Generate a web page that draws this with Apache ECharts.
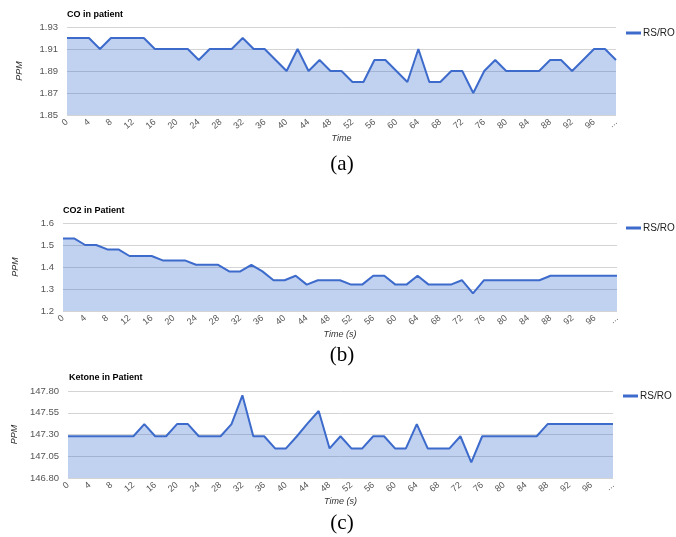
<!DOCTYPE html>
<html>
<head>
<meta charset="utf-8">
<script src="https://cdn.jsdelivr.net/npm/echarts@6/dist/echarts.min.js"></script>
<style>
html,body{margin:0;padding:0;background:#fff;}
#c{width:676px;height:537px;}
</style>
</head>
<body>
<div id="c"></div>
<script>
// ---- data ----
var times = [0,2,4,6,8,10,12,14,16,18,20,22,24,26,28,30,32,34,36,38,40,42,44,46,48,50,52,54,56,58,60,62,64,66,68,70,72,74,76,78,80,82,84,86,88,90,92,94,96,98,100];
var coValues = [1.92,1.92,1.92,1.91,1.92,1.92,1.92,1.92,1.91,1.91,1.91,1.91,1.90,1.91,1.91,1.91,1.92,1.91,1.91,1.90,1.89,1.91,1.89,1.90,1.89,1.89,1.88,1.88,1.90,1.90,1.89,1.88,1.91,1.88,1.88,1.89,1.89,1.87,1.89,1.90,1.89,1.89,1.89,1.89,1.90,1.90,1.89,1.90,1.91,1.91,1.90];
var co2Values = [1.53,1.53,1.50,1.50,1.48,1.48,1.45,1.45,1.45,1.43,1.43,1.43,1.41,1.41,1.41,1.38,1.38,1.41,1.38,1.34,1.34,1.36,1.32,1.34,1.34,1.34,1.32,1.32,1.36,1.36,1.32,1.32,1.36,1.32,1.32,1.32,1.34,1.28,1.34,1.34,1.34,1.34,1.34,1.34,1.36,1.36,1.36,1.36,1.36,1.36,1.36];
var ketoneValues = [147.28,147.28,147.28,147.28,147.28,147.28,147.28,147.42,147.28,147.28,147.42,147.42,147.28,147.28,147.28,147.42,147.75,147.28,147.28,147.14,147.14,147.28,147.43,147.57,147.14,147.28,147.14,147.14,147.28,147.28,147.14,147.14,147.42,147.14,147.14,147.14,147.28,146.98,147.28,147.28,147.28,147.28,147.28,147.28,147.42,147.42,147.42,147.42,147.42,147.42,147.42];
var coTicks = [1.85,1.87,1.89,1.91,1.93];
var co2Ticks = [1.2,1.3,1.4,1.5,1.6];
var ketoneTicks = [146.80,147.05,147.30,147.55,147.80];
var titles = ['CO in patient','CO2 in Patient','Ketone in Patient'];
var xNames = ['Time','Time (s)','Time (s)'];
var captions = ['(a)','(b)','(c)'];
var seriesName = 'RS/RO';

// ---- layout ----
var FONT = 'Liberation Sans, Arial, sans-serif';
var grids = [
  {left:67, top:27, width:549, height:88},
  {left:63, top:223, width:554, height:88},
  {left:68, top:391, width:545, height:87}
];
var yCfg = [
  {ticks:coTicks, dec:2},
  {ticks:co2Ticks, dec:1},
  {ticks:ketoneTicks, dec:2}
];
var dataSets = [coValues, co2Values, ketoneValues];
var titleTops = [10, 206, 373];
var titleLefts = [67, 63, 69];
var legendPos = [{left:626, top:28},{left:626, top:223},{left:623, top:391}];
var captionY = [164, 355, 523];

var chart = echarts.init(document.getElementById('c'), null, {renderer:'canvas'});

var option = {
  animation:false,
  backgroundColor:'#fff',
  title: titles.map(function(t,i){
    return {text:t, left:titleLefts[i], top:titleTops[i], padding:0,
      textStyle:{fontFamily:FONT, fontSize:9, fontWeight:'bold', color:'#000'}};
  }),
  legend: grids.map(function(g,i){
    return {data:[seriesName], left:legendPos[i].left, top:legendPos[i].top, orient:'vertical',
      padding:0, icon:'rect', itemWidth:15, itemHeight:3, itemGap:4,
      textStyle:{fontFamily:FONT, fontSize:10, color:'#222', padding:[0,0,0,-3]}};
  }),
  grid: grids,
  xAxis: grids.map(function(g,i){
    return {type:'category', gridIndex:i, data:times, boundaryGap:false,
      name:xNames[i], nameLocation:'middle', nameGap:17,
      nameTextStyle:{fontFamily:FONT, fontSize:9, fontStyle:'italic', color:'#333'},
      axisLine:{show:false}, axisTick:{show:false},
      axisLabel:{interval:1, rotate:40, margin:6, fontFamily:FONT, fontSize:9, color:'#555',
        formatter:function(v, idx){ return idx === times.length-1 ? '...' : v; }},
      splitLine:{show:false}};
  }),
  yAxis: grids.map(function(g,i){
    var c = yCfg[i];
    return {type:'value', gridIndex:i, min:c.ticks[0], max:c.ticks[c.ticks.length-1],
      name:'PPM', nameLocation:'middle', nameGap:43,
      nameTextStyle:{fontFamily:FONT, fontSize:9, fontStyle:'italic', color:'#333'},
      axisLine:{show:false},
      axisTick:{show:false, customValues:c.ticks},
      axisLabel:{customValues:c.ticks, margin:9, fontFamily:FONT, fontSize:9.5, color:'#555',
        formatter:function(v){ return v.toFixed(c.dec); }},
      splitLine:{show:true, lineStyle:{color:'#d4d4d4', width:1}}};
  }),
  series: dataSets.map(function(d,i){
    return {name:seriesName, type:'line', xAxisIndex:i, yAxisIndex:i, data:d,
      showSymbol:false, symbol:'none',
      lineStyle:{color:'#3d6bcc', width:2},
      itemStyle:{color:'#3d6bcc'},
      areaStyle:{color:'#3366cc', opacity:0.3}};
  }),
  graphic: captions.map(function(t,i){
    return {type:'text', x:342, y:captionY[i],
      style:{text:t, fontFamily:'Liberation Serif, Times New Roman, serif', fontSize:21,
        fill:'#000', textAlign:'center', textVerticalAlign:'middle'}};
  })
};
chart.setOption(option);
</script>
</body>
</html>
